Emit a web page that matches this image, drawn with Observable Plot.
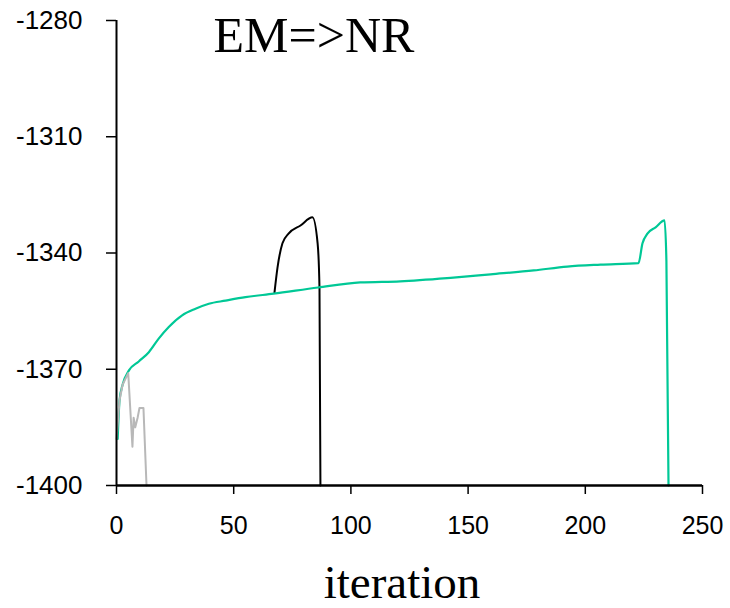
<!DOCTYPE html>
<html>
<head>
<meta charset="utf-8">
<script src="https://cdn.jsdelivr.net/npm/d3@7"></script>
<script src="https://cdn.jsdelivr.net/npm/@observablehq/plot@0.6"></script>
<style>
  html, body { margin: 0; padding: 0; background: #fff; }
  #chart { width: 730px; height: 608px; }
</style>
</head>
<body>
<div id="chart"></div>
<script>
// Data
const xTicks = [0, 50, 100, 150, 200, 250];
const yTicks = [-1400, -1370, -1340, -1310, -1280];

const greenX = [0.5, 1.3, 2.6, 5.3, 9.5, 13.8, 18, 22.3, 28, 33.7, 39.4, 46.5, 55, 67, 86, 104, 121, 142.5, 159.6, 178, 192.3, 206.5, 222.7, 224.4, 226.5, 230, 233.8, 234.6, 235.5];
const greenY = [-1388, -1378, -1374, -1370.3, -1368, -1365.6, -1362.1, -1359.1, -1356.1, -1354.4, -1353.1, -1352.3, -1351.4, -1350.5, -1348.9, -1347.6, -1347.3, -1346.4, -1345.5, -1344.5, -1343.5, -1343, -1342.6, -1337.5, -1335, -1333.4, -1331.6, -1342, -1400];

const blackX = [67.4, 68.7, 70.8, 73.4, 78.5, 83.6, 85.8, 86.6, 87];
const blackY = [-1350.2, -1343.7, -1337.5, -1335, -1332.9, -1330.8, -1337.5, -1349, -1400];

const grayX = [0, 1.3, 2.6, 5, 6.8, 7.3, 8, 9, 9.8, 11.5, 12.8];
const grayY = [-1388, -1378, -1374, -1371, -1390, -1382.5, -1385, -1382.5, -1380, -1380, -1400];

const toRows = (xs, ys) => xs.map((x, i) => ({x, y: ys[i]}));
const green = toRows(greenX, greenY);
const black = toRows(blackX, blackY);
const gray = toRows(grayX, grayY);

const plot = Plot.plot({
  width: 730,
  height: 608,
  marginLeft: 116,
  marginRight: 28,
  marginTop: 20,
  marginBottom: 123,
  style: {fontFamily: "'Liberation Sans', Arial, sans-serif", fontSize: "25px", color: "#000", background: "#fff"},
  x: {domain: [0, 250]},
  y: {domain: [-1400, -1280]},
  marks: [
    Plot.axisX({ticks: xTicks, tickSize: 9, tickPadding: 22, tickFormat: d => String(d), label: null, stroke: "#000", strokeWidth: 1.5}),
    Plot.axisY({ticks: yTicks, tickSize: 10, tickPadding: 24, tickFormat: d => String(d), label: null, stroke: "#000", strokeWidth: 1.5, fontSize: 26}),
    Plot.line(black, {x: "x", y: "y", stroke: "#000000", strokeWidth: 2, curve: "monotone-x"}),
    Plot.line(green, {x: "x", y: "y", stroke: "#00C896", strokeWidth: 2.2, curve: "monotone-x"}),
    Plot.line(gray, {x: "x", y: "y", stroke: "#B8B8B8", strokeWidth: 2}),
    Plot.ruleX([0], {stroke: "#000", strokeWidth: 2}),
    Plot.ruleY([-1400], {stroke: "#000", strokeWidth: 2.5})
  ]
});

const svg = d3.select(plot);
svg.append("text")
  .attr("x", 314).attr("y", 52)
  .attr("text-anchor", "middle")
  .style("font-family", "'Liberation Serif', 'Times New Roman', serif")
  .style("font-size", "50px")
  .attr("fill", "#000")
  .text("EM=>NR");
svg.append("text")
  .attr("x", 402).attr("y", 598)
  .attr("text-anchor", "middle")
  .style("font-family", "'Liberation Serif', 'Times New Roman', serif")
  .style("font-size", "47px")
  .attr("fill", "#000")
  .text("iteration");

document.getElementById("chart").appendChild(plot);
</script>
</body>
</html>
